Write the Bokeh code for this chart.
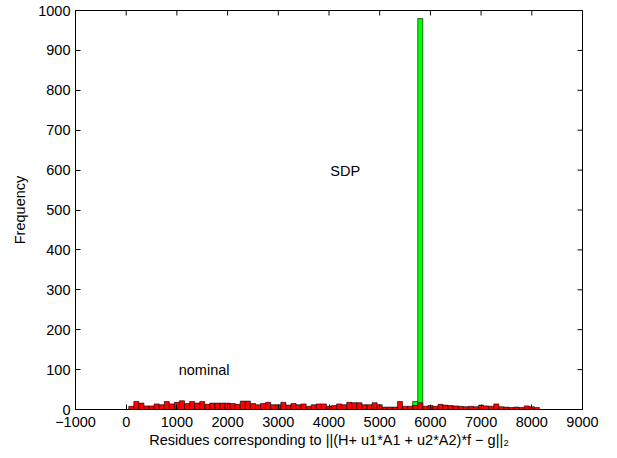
import math
from bokeh.plotting import figure
from bokeh.models import Range1d, FixedTicker, Label
from bokeh.embed import file_html
from bokeh.resources import INLINE

# ---- data ----
bin_width = 100
red_first_edge = 50
red_counts = [8, 20, 16, 9, 9, 14, 12, 20, 14, 18,
              22, 15, 20, 16, 20, 13, 16, 16, 16, 16,
              15, 13, 21, 21, 15, 12, 15, 18, 12, 12,
              18, 11, 15, 12, 14, 8, 12, 14, 14, 8,
              10, 14, 12, 18, 17, 17, 12, 12, 17, 12,
              6, 6, 6, 20, 8, 8, 10, 17, 8, 10,
              8, 13, 11, 10, 9, 8, 7, 8, 7, 11,
              9, 8, 14, 7, 6, 5, 6, 5, 9, 7, 5]
green_first_edge = 5650
green_counts = [20, 980]

x_ticks = list(range(-1000, 9001, 1000))
y_ticks = list(range(0, 1001, 100))
x_label = "Residues corresponding to ||(H+ u1*A1 + u2*A2)*f \u2212 g||\u2082"
y_label = "Frequency"
annotations = [("SDP", 4321, 598), ("nominal", 1537, 98)]

FONT = "Liberation Sans"
FS = "14.5px"

red_left = [red_first_edge + i * bin_width for i in range(len(red_counts))]
red_right = [l + bin_width for l in red_left]
green_left = [green_first_edge + i * bin_width for i in range(len(green_counts))]
green_right = [l + bin_width for l in green_left]

X0, X1, Y0, Y1 = -1000, 9000, 0, 1000

p = figure(width=617, height=458, output_backend="svg", toolbar_location=None,
           x_range=Range1d(X0, X1), y_range=Range1d(Y0, Y1),
           min_border_left=75, min_border_right=35, min_border_top=10, min_border_bottom=49)
p.xgrid.visible = False
p.ygrid.visible = False
p.outline_line_color = "black"
p.outline_line_width = 1
p.background_fill_color = "white"
p.border_fill_color = "white"

p.quad(left=green_left, right=green_right, bottom=0, top=green_counts,
       fill_color="#00ff00", line_color="black", line_width=0.6)
p.quad(left=red_left, right=red_right, bottom=0, top=red_counts,
       fill_color="#ff0000", line_color="black", line_width=0.6)

for ax in (p.xaxis[0], p.yaxis[0]):
    ax.major_tick_in = 5
    ax.major_tick_out = 0
    ax.minor_tick_line_color = None
    ax.axis_line_color = "black"
    ax.major_tick_line_color = "black"
    ax.major_label_text_font = FONT
    ax.major_label_text_font_size = FS
    ax.major_label_text_color = "black"
    ax.axis_label_text_font = FONT
    ax.axis_label_text_font_size = FS
    ax.axis_label_text_font_style = "normal"
    ax.axis_label_text_color = "black"

p.xaxis.ticker = FixedTicker(ticks=x_ticks)
p.yaxis.ticker = FixedTicker(ticks=y_ticks)
p.xaxis.major_label_overrides = {-1000: "\u22121000"}
p.xaxis.major_label_standoff = 7
p.yaxis.major_label_standoff = 5
p.yaxis.axis_label = y_label
p.yaxis.axis_label_standoff = 7
p.xaxis.axis_label = x_label
p.xaxis.axis_label_standoff = 2

# mirrored inward ticks on top and right edges of the box
p.ray(x=x_ticks, y=Y1, length=5, length_units="screen", angle=-math.pi / 2,
      line_color="black", line_width=1)
p.ray(x=X1, y=y_ticks, length=5, length_units="screen", angle=math.pi,
      line_color="black", line_width=1)

for txt, x, y in annotations:
    p.add_layout(Label(x=x, y=y, text=txt, text_align="center", text_baseline="middle",
                       text_font=FONT, text_font_size=FS, text_color="black"))

open("out.html", "w").write(file_html(p, INLINE))
